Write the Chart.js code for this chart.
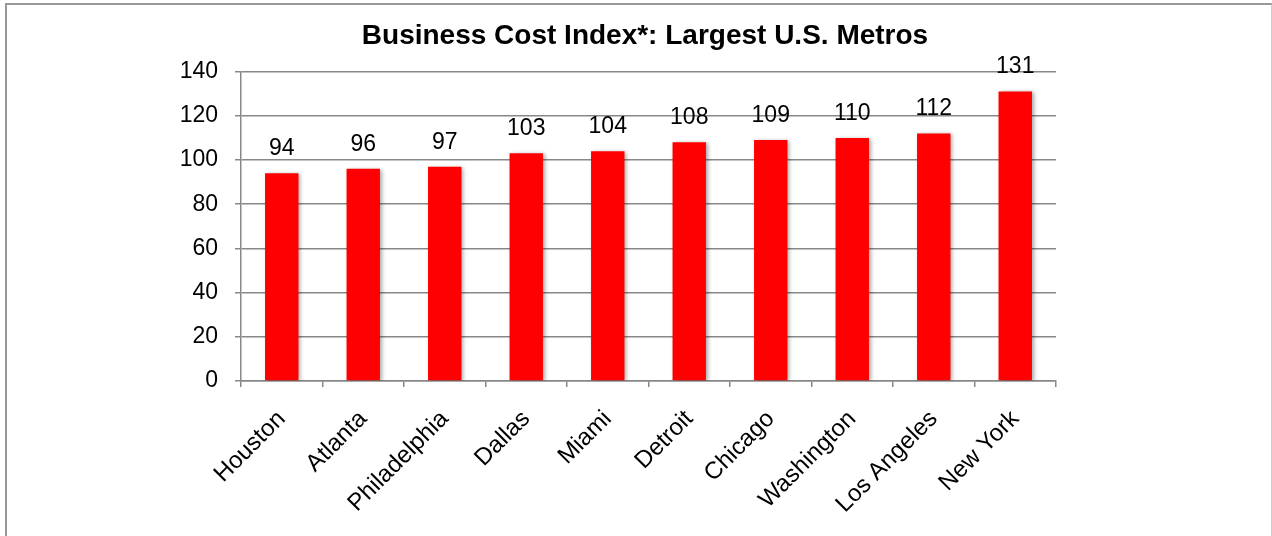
<!DOCTYPE html>
<html>
<head>
<meta charset="utf-8">
<script src="https://cdn.jsdelivr.net/npm/chart.js@4"></script>
<style>
  body { margin: 0; background: #fff; }
  #frame {
    position: absolute; left: 5px; top: 3px; width: 1264px; height: 560px;
    border: 2px solid #999; border-right-color: #ccc; pointer-events: none;
  }
</style>
</head>
<body>
<canvas id="myChart" width="1272" height="536"></canvas>
<div id="frame"></div>
<script>
const labels = [
    'Houston',
    'Atlanta',
    'Philadelphia',
    'Dallas',
    'Miami',
    'Detroit',
    'Chicago',
    'Washington',
    'Los Angeles',
    'New York',
];

const costIndex = [94, 96, 97, 103, 104, 108, 109, 110, 112, 131];

const FONT = '"Liberation Sans", Arial, sans-serif';

// draws the value above each bar
const valueLabels = {
    id: 'valueLabels',
    afterDatasetsDraw(chart) {
        const ctx = chart.ctx;
        const meta = chart.getDatasetMeta(0);
        ctx.save();
        ctx.font = '23px ' + FONT;
        ctx.fillStyle = '#000';
        ctx.textAlign = 'center';
        ctx.textBaseline = 'alphabetic';
        meta.data.forEach((bar, i) => {
            ctx.fillText(chart.data.datasets[0].data[i], bar.x, bar.y - 18);
        });
        ctx.restore();
    }
};

// soft shadow behind bars
const barShadow = {
    id: 'barShadow',
    beforeDatasetsDraw(chart) {
        const ctx = chart.ctx;
        ctx.save();
        ctx.shadowColor = 'rgba(0,0,0,0.35)';
        ctx.shadowBlur = 4;
        ctx.shadowOffsetX = 2;
        ctx.shadowOffsetY = 1;
    },
    afterDatasetsDraw(chart) {
        chart.ctx.restore();
    }
};

// title in the original sits a bit right of the plot centre
const titleShift = {
    id: 'titleShift',
    afterLayout(chart) {
        chart.titleBlock.left = 18;
        chart.titleBlock.right = 1272;
    }
};

const data = {
    labels: labels,
    datasets: [{
        data: costIndex,
        backgroundColor: '#ff0000',
        categoryPercentage: 1,
        barPercentage: 0.41,
    }]
};

const config = {
    type: 'bar',
    data: data,
    plugins: [barShadow, valueLabels, titleShift],
    options: {
        responsive: false,
        animation: false,
        devicePixelRatio: 1,
        layout: { padding: { left: 0, right: 216, top: 0, bottom: 0 } },
        plugins: {
            legend: { display: false },
            tooltip: { enabled: false },
            title: {
                display: true,
                text: 'Business Cost Index*: Largest U.S. Metros',
                color: '#000',
                font: { family: FONT, size: 28, weight: 'bold' },
                padding: { top: 19, bottom: 19 }
            }
        },
        scales: {
            x: {
                afterFit(scale) { scale.height = 155; },
                grid: {
                    drawOnChartArea: false,
                    color: '#888',
                    lineWidth: 1.5,
                    tickLength: 6,
                    offset: true
                },
                border: { color: '#888', width: 1.5 },
                ticks: {
                    color: '#000',
                    font: { family: FONT, size: 24 },
                    minRotation: 45,
                    maxRotation: 45,
                    padding: 18
                }
            },
            y: {
                min: 0,
                max: 140,
                afterFit(scale) { scale.width = 241; },
                grid: {
                    color: '#888',
                    lineWidth: 1.5,
                    tickLength: 6
                },
                border: { color: '#888', width: 1.5 },
                ticks: {
                    stepSize: 20,
                    color: '#000',
                    font: { family: FONT, size: 23 },
                    padding: 17
                }
            }
        }
    }
};

new Chart(
    document.getElementById('myChart'),
    config
);
</script>
</body>
</html>
